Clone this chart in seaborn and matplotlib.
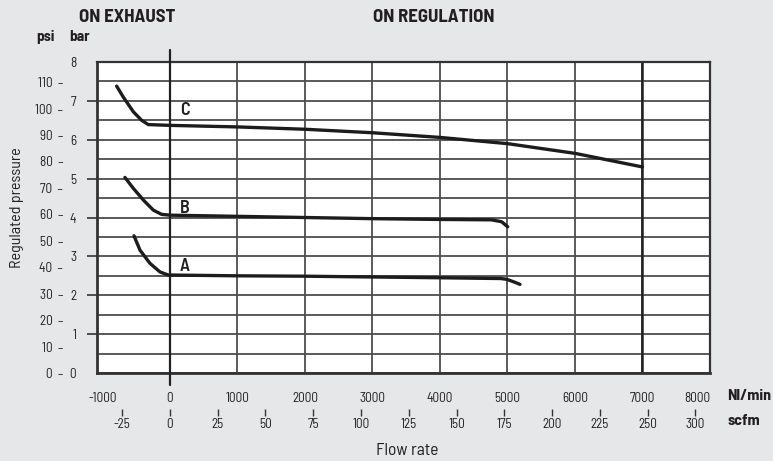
import numpy as np
import pandas as pd
import matplotlib
matplotlib.use("Agg")
import matplotlib.pyplot as plt
import seaborn as sns

# ---------------- data ----------------
curve_a_flow = [-533, -444, -296, -148, -25, 0, 1000, 2000, 3000, 4000, 4900, 4990, 5100, 5185]
curve_a_bar = [3.53, 3.16, 2.82, 2.60, 2.52, 2.52, 2.50, 2.49, 2.47, 2.45, 2.43, 2.41, 2.34, 2.28]

curve_b_flow = [-667, -543, -395, -247, -123, 0, 1000, 2000, 3000, 4000, 4765, 4914, 5003]
curve_b_bar = [5.03, 4.75, 4.45, 4.19, 4.08, 4.06, 4.03, 4.00, 3.97, 3.95, 3.94, 3.89, 3.76]

curve_c_flow = [-790, -692, -543, -420, -321, 0, 1000, 2000, 3000, 4000, 5000, 6000, 7000]
curve_c_bar = [7.38, 7.10, 6.72, 6.50, 6.39, 6.37, 6.33, 6.27, 6.18, 6.06, 5.90, 5.65, 5.30]

curve_names = ["A", "B", "C"]
curve_label_flow = [222, 222, 222]
curve_label_bar = [2.75, 4.24, 6.74]

flow_ticks = [-1000, 0, 1000, 2000, 3000, 4000, 5000, 6000, 7000, 8000]
flow_tick_labels = ["-1000", "0", "1000", "2000", "3000", "4000", "5000", "6000", "7000", "8000"]
scfm_ticks = [-25, 0, 25, 50, 75, 100, 125, 150, 175, 200, 225, 250, 275]
scfm_tick_labels = ["-25", "0", "25", "50", "75", "100", "125", "150", "175", "200", "225", "250", "300"]
bar_ticks = [0, 1, 2, 3, 4, 5, 6, 7, 8]
psi_ticks = [0, 10, 20, 30, 40, 50, 60, 70, 80, 90, 100, 110]
PSI_PER_BAR = 14.7
NL_PER_SCFM = 28.3

# ---------------- style ----------------
sns.set_theme(style="white")
plt.rcParams["font.family"] = ["Barlow Semi Condensed", "DejaVu Sans"]
plt.rcParams["font.stretch"] = "semi-condensed"

BG = "#e6e7e9"
TXT = "#231f20"
GRID = "#4d4d4d"

fig = plt.figure(figsize=(7.73, 4.61), dpi=100, facecolor=BG)
ax = fig.add_axes([97 / 773, 88 / 461, 613 / 773, 311 / 461])
ax.set_facecolor("white")

frames = []
for name, xs, ys in [("A", curve_a_flow, curve_a_bar),
                     ("B", curve_b_flow, curve_b_bar),
                     ("C", curve_c_flow, curve_c_bar)]:
    frames.append(pd.DataFrame({"flow": xs, "bar": ys, "curve": name}))
df = pd.concat(frames, ignore_index=True)

ax.set_xlim(-1081, 8000)
ax.set_ylim(0, 8)

ax.set_yticks(bar_ticks)
ax.set_yticks(np.arange(0.5, 8, 1.0), minor=True)
ax.grid(False)
ax.yaxis.grid(True, which="both", color=GRID, lw=1.3)
for v in flow_ticks[2:-1]:
    ax.axvline(v, color=GRID, lw=1.3, zorder=1)
ax.axvline(7000, color="#222222", lw=1.8, zorder=1)
ax.axvline(0, ymin=-0.04, ymax=1.04, color="#222222", lw=1.6, clip_on=False, zorder=3)

for name in curve_names:
    sns.lineplot(data=df[df["curve"] == name], x="flow", y="bar", sort=False,
                 color="#1c1c1c", lw=2.4, ax=ax, zorder=4, legend=False)

for n, fx, by in zip(curve_names, curve_label_flow, curve_label_bar):
    ax.text(fx, by, n, fontsize=13, fontweight=600, color=TXT, ha="center", va="center", zorder=5)

for s in ["left", "bottom", "top", "right"]:
    ax.spines[s].set_visible(True)
    ax.spines[s].set_color("#333333")
ax.spines["left"].set_linewidth(2.0)
ax.spines["bottom"].set_linewidth(2.0)
ax.spines["top"].set_linewidth(1.6)
ax.spines["right"].set_linewidth(1.6)

ax.set_xticks(flow_ticks)
ax.set_xticklabels(flow_tick_labels)
ax.set_xticks(flow_ticks[3:-1], minor=True)
ax.tick_params(axis="x", which="major", length=0, pad=14, labelsize=9.5, labelcolor=TXT)
ax.tick_params(axis="x", which="minor", bottom=True, length=6, width=1.6, color="#333333", direction="out")
ax.get_xticklabels()[-1].set_horizontalalignment("right")

ax.set_yticklabels([str(b) for b in bar_ticks])
ax.tick_params(axis="y", which="major", left=True, length=7, width=1.4, color=GRID,
               direction="out", pad=8, labelsize=9.5, labelcolor=TXT)
ax.tick_params(axis="y", which="minor", left=False, length=0)
yt = ax.yaxis.get_major_ticks()
yt[0].tick1line.set_visible(False)
yt[-1].tick1line.set_visible(False)
ax.set_xlabel("")
ax.set_ylabel("")

sec_y = ax.secondary_yaxis(-0.053, functions=(lambda b: b * PSI_PER_BAR, lambda p: p / PSI_PER_BAR))
sec_y.set_yticks(psi_ticks)
sec_y.set_yticklabels([f"{p}  \u2013" for p in psi_ticks])
sec_y.tick_params(length=0, pad=1, labelsize=9.5, labelcolor=TXT)
sec_y.spines["left"].set_visible(False)

sec_x = ax.secondary_xaxis(-0.116, functions=(lambda n: n / NL_PER_SCFM, lambda s: s * NL_PER_SCFM))
sec_x.set_xticks(scfm_ticks)
sec_x.set_xticklabels(scfm_tick_labels)
sec_x.tick_params(length=5, width=1.0, color="#333333", direction="out", pad=1.5, labelsize=9.5, labelcolor=TXT)
sec_x.spines["bottom"].set_visible(False)

fig.text(127 / 773, 1 - 18 / 461, "ON EXHAUST", ha="center", va="center", fontsize=13.5, fontweight="bold", color=TXT)
fig.text(434 / 773, 1 - 18 / 461, "ON REGULATION", ha="center", va="center", fontsize=13.5, fontweight="bold", color=TXT)
fig.text(45 / 773, 1 - 37 / 461, "psi", ha="center", va="center", fontsize=11, fontweight="bold", color=TXT)
fig.text(80 / 773, 1 - 37 / 461, "bar", ha="center", va="center", fontsize=11, fontweight="bold", color=TXT)
fig.text(17 / 773, 1 - 208 / 461, "Regulated pressure", rotation=90, ha="center", va="center", fontsize=11.5, color=TXT)
fig.text(407 / 773, 1 - 450 / 461, "Flow rate", ha="center", va="center", fontsize=12.5, color=TXT)
fig.text(727 / 773, 1 - 396 / 461, "Nl/min", ha="left", va="center", fontsize=11.5, fontweight="bold", color=TXT)
fig.text(727 / 773, 1 - 421 / 461, "scfm", ha="left", va="center", fontsize=11.5, fontweight="bold", color=TXT)

fig.savefig("out.png", dpi=100, facecolor=BG)
